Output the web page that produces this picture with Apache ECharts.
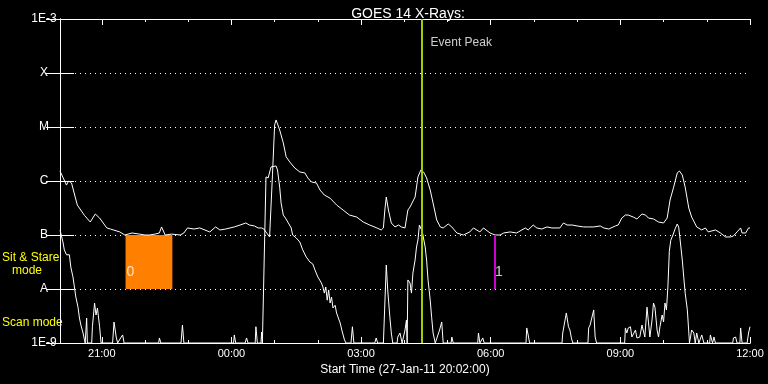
<!DOCTYPE html>
<html><head><meta charset="utf-8">
<script src="https://cdn.jsdelivr.net/npm/echarts@6/dist/echarts.min.js"></script>
<style>html,body{margin:0;padding:0;background:#000;}#c{width:768px;height:384px;}</style>
</head><body><div id="c"></div>
<script>
// time axis: minutes since 27-Jan-11 20:02:00
const axisMax = 958;
const hourTicks = [58,118,178,238,298,358,418,478,538,598,658,718,778,838,898,958];
const labelTicks = [58,238,418,598,778,958];
const labelText = ['21:00','00:00','03:00','06:00','09:00','12:00'];
const yTickText = ['1E-9','A','B','C','M','X','1E-3'];

// GOES long channel (1-8 A), W/m^2
const longT = [0,2,9,12,14,16,24,34,42,49,55,65,70,83,90,100,110,118,124,132,138,141,146,155,167,172,177,186,194,208,216,222,230,242,250,258,263,270,275,280,283,287,291,293,295,298,300,302,305,310,314,319,326,333,340,344,349,356,361,367,375,384,393,402,412,421,430,440,446,449,451,453,456,460,465,470,474,479,483,486,488,493,497,501,503,505,509,514,518,523,528,532,539,544,551,560,569,574,583,588,597,604,611,616,625,634,646,650,657,662,669,676,683,694,699,704,711,718,727,734,741,750,755,762,771,775,780,785,789,796,801,808,813,817,824,831,838,843,847,852,857,860,864,868,873,877,884,891,896,900,910,917,924,931,935,940,945,947,952,956,958];
const longF = [1.53e-6,1.41e-6,8.4e-7,1.0e-6,9.6e-7,9.2e-7,3.6e-7,2.3e-7,1.74e-7,2.45e-7,2.06e-7,1.35e-7,1.29e-7,1.14e-7,1.0e-7,1.09e-7,1.04e-7,1.0e-7,1.0e-7,1.04e-7,1.09e-7,1.41e-7,1.0e-7,1.04e-7,1.0e-7,1.09e-7,1.35e-7,1.29e-7,1.35e-7,1.14e-7,1.41e-7,1.24e-7,1.29e-7,1.41e-7,1.53e-7,1.67e-7,1.53e-7,1.47e-7,1.35e-7,1.35e-7,1.29e-7,1.09e-7,9.2e-8,9.6e-8,1.3e-6,1.09e-5,1.35e-5,1.14e-5,8.8e-6,5.1e-6,2.8e-6,2.25e-6,1.74e-6,1.47e-6,1.41e-6,1.14e-6,9.6e-7,9.2e-7,6.8e-7,5.5e-7,4.8e-7,3.6e-7,2.9e-7,2.34e-7,2.15e-7,1.74e-7,1.53e-7,1.35e-7,1.24e-7,1.35e-7,2.9e-7,5.05e-7,2.9e-7,1.67e-7,1.41e-7,1.53e-7,1.41e-7,1.35e-7,2.9e-7,3.3e-7,3.16e-7,5.05e-7,1.19e-6,1.6e-6,1.55e-6,1.45e-6,1.14e-6,6.8e-7,3.9e-7,1.9e-7,1.41e-7,1.35e-7,1.6e-7,1.41e-7,1.09e-7,1.0e-7,1.14e-7,1.35e-7,1.14e-7,1.35e-7,1.09e-7,1.0e-7,1.0e-7,1.09e-7,1.14e-7,1.09e-7,1.35e-7,1.24e-7,1.53e-7,1.35e-7,1.29e-7,1.41e-7,1.35e-7,1.35e-7,1.67e-7,1.53e-7,1.53e-7,1.47e-7,1.41e-7,1.41e-7,1.41e-7,1.47e-7,1.35e-7,1.29e-7,1.47e-7,1.53e-7,2.06e-7,2.34e-7,2.34e-7,2.15e-7,1.98e-7,2.45e-7,2.34e-7,2.06e-7,1.98e-7,1.74e-7,1.67e-7,2.06e-7,4.45e-7,7.7e-7,1.41e-6,1.53e-6,1.29e-6,7.7e-7,3.16e-7,2.15e-7,1.41e-7,1.24e-7,1.35e-7,1.14e-7,1.24e-7,1.09e-7,9.2e-8,9.2e-8,9.6e-8,1.14e-7,1.35e-7,1.09e-7,1.09e-7,1.35e-7,1.35e-7];

// GOES short channel (0.5-4 A), W/m^2
const shortT = [0,4,6,9,11,13,15,18,20,22,25,27,29,32,34,35,37,38,44,45,48,50,52,55,57,73,75,78,80,85,87,89,137,138,140,168,170,172,241,242,244,257,259,261,271,272,274,279,280,281,283,286,289,291,293,295,300,302,305,307,310,313,317,321,323,328,333,337,342,347,351,354,358,363,365,367,369,371,373,375,377,379,382,384,386,389,392,395,397,404,406,408,437,439,441,449,453,455,458,460,462,468,469,472,475,479,481,482,483,486,488,490,493,495,497,499,501,503,507,509,511,514,516,518,521,527,530,532,543,544,546,580,581,583,587,589,647,648,650,652,697,698,703,706,708,710,712,733,734,736,741,743,745,784,785,787,789,792,794,799,801,805,808,810,812,815,817,819,822,824,826,829,831,833,836,838,840,842,844,846,848,851,854,857,859,861,864,866,868,871,873,874,877,880,882,884,887,891,894,902,903,906,908,910,934,935,938,940,944,945,947,954,956,958];
const shortF = [1.24e-7,7.5e-8,5.3e-8,4.3e-8,4.6e-8,4.3e-8,2.55e-8,1.67e-8,1.09e-8,7.1e-9,4.6e-9,2.9e-9,2.15e-9,1.53e-9,1.14e-9,1e-9,2.9e-9,1e-9,1e-9,2.0e-9,5.5e-9,3.3e-9,4.45e-9,2.0e-9,1e-9,1e-9,2.45e-9,1.29e-9,1e-9,1.29e-9,1.41e-9,1e-9,1e-9,1.24e-9,1e-9,1e-9,2.15e-9,1e-9,1e-9,1.41e-9,1e-9,1e-9,1.24e-9,1e-9,1e-9,2.0e-9,1e-9,1e-9,1.6e-9,1e-9,1e-9,1.19e-6,1.14e-6,1.19e-6,1.82e-6,1.9e-6,1.9e-6,1.6e-6,7.7e-7,3.9e-7,2.34e-7,2.06e-7,1.67e-7,1.35e-7,1.0e-7,8.8e-8,7.4e-8,5.3e-8,3.9e-8,3.16e-8,2.9e-8,2.25e-8,1.67e-8,1.29e-8,1.09e-8,8.4e-9,1.09e-8,6.2e-9,9.6e-9,5.5e-9,7.1e-9,4.45e-9,5.0e-9,3.6e-9,3.9e-9,2.34e-9,1.6e-9,1.14e-9,1e-9,1e-9,2.0e-9,1e-9,1e-9,1.24e-9,1e-9,1e-9,2.78e-8,9.6e-9,3.0e-9,1.53e-9,1e-9,1e-9,1.29e-9,1.53e-9,1e-9,1.74e-9,2.67e-9,1e-9,1.47e-8,1.29e-8,8.4e-9,1.98e-8,3.44e-8,6.0e-8,8.1e-8,1.53e-7,1.65e-7,1.15e-7,6.0e-8,3.44e-8,1.47e-8,6.2e-9,3.0e-9,1.53e-9,1e-9,1.74e-9,2.45e-9,1e-9,1e-9,1.29e-9,1e-9,1e-9,1.53e-9,1e-9,1.24e-9,1e-9,1e-9,1.9e-9,1.41e-9,1e-9,1e-9,1.53e-9,3.6e-9,2.0e-9,1.74e-9,1.24e-9,1e-9,1e-9,1.9e-9,2.15e-9,4.1e-9,1.29e-9,1e-9,1e-9,1.9e-9,1.53e-9,1.9e-9,2.0e-9,1.29e-9,1.74e-9,1.24e-9,1.29e-9,2.15e-9,2.34e-9,1.29e-9,4.6e-9,4.45e-9,1.29e-9,2.67e-9,5.5e-9,4.6e-9,1.74e-9,1.29e-9,2.0e-9,3.3e-9,2.45e-9,5.5e-9,4.1e-9,1.1e-8,5.0e-8,8.0e-8,1.0e-7,1.3e-7,1.6e-7,1.4e-7,8.1e-8,3.44e-8,1.67e-8,8.4e-9,4.1e-9,1.6e-9,1e-9,1.74e-9,1.53e-9,1e-9,1.53e-9,1e-9,1.41e-9,1e-9,1e-9,1.41e-9,1e-9,1.29e-9,1e-9,1e-9,1.24e-9,1.29e-9,1e-9,1e-9,1.9e-9,1e-9,1e-9,1.53e-9,2.0e-9];

// annotations
const eventPeakT = 502;
const sitStareT = [91, 156];
const sitStareFlux = [1e-8, 1e-7];
const rasterT = 604;

const FONT = '"Liberation Sans", Arial, sans-serif';
const W = '#ffffff';
const zip = (a, b) => a.map((t, i) => [t, b[i]]);

const chart = echarts.init(document.getElementById('c'), null, {renderer: 'canvas'});

const baseX = {type: 'value', min: 0, max: axisMax, gridIndex: 0, splitLine: {show: false},
  axisLine: {show: true, lineStyle: {color: W, width: 1}}};
const logY = {type: 'log', logBase: 10, min: 1e-9, max: 1e-3, gridIndex: 0,
  axisLine: {show: true, lineStyle: {color: W, width: 1}},
  axisTick: {show: true, inside: true, length: 14, lineStyle: {color: W}},
  minorTick: {show: false}};

const option = {
  backgroundColor: '#000',
  animation: false,
  title: {text: 'GOES 14 X-Rays:', left: 403, top: 2, textAlign: 'center',
    textStyle: {color: W, fontFamily: FONT, fontSize: 14, fontWeight: 'normal'}},
  grid: {left: 60, right: 18, top: 19, bottom: 41},
  xAxis: [
    Object.assign({}, baseX, {position: 'bottom',
      name: 'Start Time (27-Jan-11 20:02:00)', nameLocation: 'middle', nameGap: 18,
      nameTextStyle: {color: W, fontFamily: FONT, fontSize: 12},
      axisTick: {show: true, inside: true, length: 6, customValues: labelTicks, lineStyle: {color: W}},
      axisLabel: {show: true, customValues: labelTicks, margin: 5, color: W, fontFamily: FONT, fontSize: 11,
        formatter: v => labelText[labelTicks.indexOf(Math.round(v))] || ''}}),
    Object.assign({}, baseX, {position: 'bottom',
      axisTick: {show: true, inside: true, length: 3, customValues: hourTicks, lineStyle: {color: W}},
      axisLabel: {show: false}}),
    Object.assign({}, baseX, {position: 'top',
      axisTick: {show: true, inside: true, length: 6, customValues: labelTicks, lineStyle: {color: W}},
      axisLabel: {show: false}}),
    Object.assign({}, baseX, {position: 'top',
      axisTick: {show: true, inside: true, length: 3, customValues: hourTicks, lineStyle: {color: W}},
      axisLabel: {show: false}})
  ],
  yAxis: [
    Object.assign({}, logY, {position: 'left',
      splitLine: {show: true, lineStyle: {color: W, width: 1, type: [1, 4]}},
      axisLabel: {show: true, align: 'center', margin: 16, color: W, fontFamily: FONT, fontSize: 12,
        formatter: v => yTickText[Math.round(Math.log10(v)) + 9] || ''}}),
    Object.assign({}, logY, {position: 'right', splitLine: {show: false}, axisLabel: {show: false}})
  ],
  graphic: [
    {type: 'text', left: 2, top: 252, style: {text: 'Sit & Stare', fill: '#ffff00', font: '12px ' + FONT}},
    {type: 'text', left: 12, top: 265, style: {text: 'mode', fill: '#ffff00', font: '12px ' + FONT}},
    {type: 'text', left: 2, top: 317, style: {text: 'Scan mode', fill: '#ffff00', font: '12px ' + FONT}}
  ],
  series: [
    {type: 'line', name: 'mode', data: [], z: 1, xAxisIndex: 0, yAxisIndex: 0,
      markArea: {silent: true, itemStyle: {color: '#ff8000', opacity: 1, borderWidth: 0},
        label: {show: false},
        data: [[{coord: [sitStareT[0], sitStareFlux[1]]}, {coord: [sitStareT[1], sitStareFlux[0]]}]]}},
    {type: 'line', name: 'long', data: zip(longT, longF), z: 2, xAxisIndex: 0, yAxisIndex: 0,
      showSymbol: false, symbol: 'none', clip: true, lineStyle: {color: W, width: 1}},
    {type: 'line', name: 'short', data: zip(shortT, shortF), z: 2, xAxisIndex: 0, yAxisIndex: 0,
      showSymbol: false, symbol: 'none', clip: true, lineStyle: {color: W, width: 1}},
    {type: 'scatter', name: 'notes', z: 5, xAxisIndex: 0, yAxisIndex: 0, symbolSize: 0,
      data: [
        {value: [eventPeakT, 3.6e-4], label: {show: true, position: 'right', distance: 9, formatter: 'Event Peak',
          color: W, fontFamily: FONT, fontSize: 12}},
        {value: [sitStareT[0], 2.07e-8], label: {show: true, position: 'right', distance: 1, formatter: '0',
          color: W, fontFamily: FONT, fontSize: 14}},
        {value: [rasterT, 2.07e-8], label: {show: true, position: 'right', distance: 0, formatter: '1',
          color: W, fontFamily: FONT, fontSize: 14}}
      ],
      markLine: {silent: true, symbol: ['none', 'none'], label: {show: false}, animation: false,
        data: [
          {xAxis: eventPeakT, lineStyle: {color: '#a0d000', width: 2, type: 'solid'}},
          [{coord: [rasterT, sitStareFlux[1]], lineStyle: {color: '#d000d0', width: 2, type: 'solid'}},
           {coord: [rasterT, sitStareFlux[0]]}]
        ]}}
  ]
};
chart.setOption(option);
</script>
</body></html>
